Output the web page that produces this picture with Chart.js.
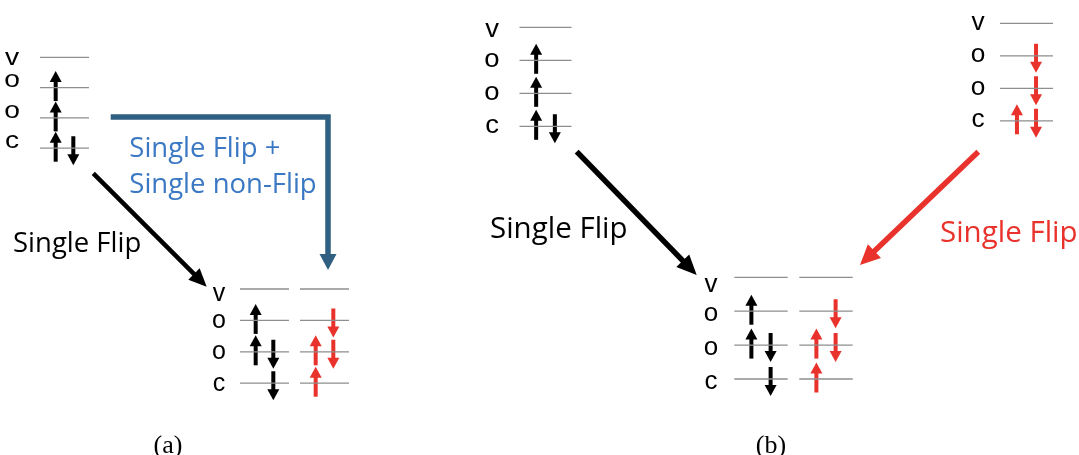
<!DOCTYPE html>
<html>
<head>
<meta charset="utf-8">
<script src="https://cdn.jsdelivr.net/npm/chart.js@4.4.1/dist/chart.umd.min.js"></script>
<style>
  html, body { margin: 0; padding: 0; background: #fff; }
  canvas { display: block; }
</style>
</head>
<body>
<canvas id="diagram" width="1079" height="455"></canvas>
<script>
// levels, top to bottom
const levelNames = ["v", "o", "o", "c"];
// spin occupancy per level: "u" = spin up, "d" = spin down
const startA = ["", "u", "u", "ud"];
const startBLeft = ["", "u", "u", "ud"];
const startBRight = ["", "d", "d", "ud"];
const finalBlack = ["", "u", "ud", "d"];
const finalRed = ["", "d", "ud", "u"];
const flipLabel = "Single Flip";
const mixedLabel = ["Single Flip +", "Single non-Flip"];
const captions = ["(a)", "(b)"];

const BLACK = "#000000";
const RED = "#e8322b";
const BLUE_LINE = "#2f5f81";
const BLUE_TEXT = "#3b78c3";
const GRAY = "#8e8e8e";

// where each little level diagram sits (labelDy = label centre relative to its line)
const panels = [
    { labelX: 12, size: 23.5, sx: 1.2, labelDy: -6.5, vShift: 8, y0: 57.3, gap: 30.3, w: 49,
      cols: [{ x: 40, spins: startA, color: BLACK }] },
    { labelX: 219, size: 25, sx: 1.0, labelDy: 1, vShift: 4, y0: 289, gap: 31.4, w: 49,
      cols: [{ x: 240, spins: finalBlack, color: BLACK }, { x: 300, spins: finalRed, color: RED }] },
    { labelX: 492, size: 25, sx: 1.1, labelDy: 0, vShift: 3, y0: 27.3, gap: 33, w: 52,
      cols: [{ x: 519.5, spins: startBLeft, color: BLACK }] },
    { labelX: 978, size: 25, sx: 1.05, labelDy: 0, vShift: 0, y0: 23.3, gap: 32.5, w: 53,
      cols: [{ x: 1000, spins: startBRight, color: RED }] },
    { labelX: 711, size: 26, sx: 1.0, labelDy: 3.5, vShift: 4, y0: 277.3, gap: 33.9, w: 53.4,
      cols: [{ x: 734.3, spins: finalBlack, color: BLACK }, { x: 799.3, spins: finalRed, color: RED }] }
];

function segment(points, color, width, head) {
    return {
        data: points,
        borderColor: color,
        backgroundColor: color,
        borderWidth: width,
        showLine: true,
        pointRadius: 0,
        tension: 0,
        borderCapStyle: "butt",
        borderJoinStyle: "miter",
        head: head
    };
}

// shaft stops at the neck, the head is filled in by the plugin below
function arrow(from, via, tip, color, width, headLen, headW) {
    const last = via.length ? via[via.length - 1] : from;
    const dx = tip.x - last.x, dy = tip.y - last.y, d = Math.hypot(dx, dy);
    const k = (headLen - 1) / d;
    const neck = { x: tip.x - dx * k, y: tip.y - dy * k };
    return segment([from, ...via, neck], color, width, { tip: tip, len: headLen, w: headW });
}

const datasets = [];
const texts = [];

panels.forEach(p => {
    levelNames.forEach((name, i) => {
        const ly = p.y0 + i * p.gap;
        p.cols.forEach(col => {
            datasets.push(segment([{ x: col.x, y: ly }, { x: col.x + p.w, y: ly }], GRAY, 1.3));
            if (col.spins[i].includes("u")) {
                const x = col.x + 0.32 * p.w;
                datasets.push(arrow({ x: x, y: ly + 13.5 }, [], { x: x, y: ly - 16.5 }, col.color, 4, 11, 12));
            }
            if (col.spins[i].includes("d")) {
                const x = col.x + 0.68 * p.w;
                datasets.push(arrow({ x: x, y: ly - 12 }, [], { x: x, y: ly + 17 }, col.color, 4, 11, 12));
            }
        });
        // lowercase letters: x-height centre sits about 0.26em above the baseline
        texts.push({
            text: name, x: p.labelX, y: ly + p.labelDy + (i === 0 ? p.vShift : 0) + 0.26 * p.size,
            font: p.size + 'px "Liberation Sans", Arial, sans-serif', color: BLACK,
            align: "center", sx: p.sx
        });
    });
});

// transitions
datasets.push(arrow({ x: 93.3, y: 173.3 }, [], { x: 206.7, y: 286.7 }, BLACK, 4.5, 18, 16));
datasets.push(arrow({ x: 110.7, y: 117 }, [{ x: 328, y: 117 }], { x: 328, y: 270 }, BLUE_LINE, 5.5, 16, 17));
datasets.push(arrow({ x: 576.7, y: 151.7 }, [], { x: 696.7, y: 275 }, BLACK, 5.5, 20, 18));
datasets.push(arrow({ x: 978.3, y: 151.7 }, [], { x: 860, y: 265 }, RED, 5.5, 20, 19));

const sans27 = '27.5px "Open Sans", sans-serif';
const sans29 = '29.5px "Open Sans", sans-serif';
texts.push({ text: flipLabel, x: 13, y: 251.7, font: sans27, color: BLACK });
texts.push({ text: mixedLabel[0], x: 129.3, y: 156.7, font: sans27, color: BLUE_TEXT });
texts.push({ text: mixedLabel[1], x: 129.3, y: 192.7, font: sans27, color: BLUE_TEXT });
texts.push({ text: flipLabel, x: 490, y: 238.3, font: sans29, color: BLACK });
texts.push({ text: flipLabel, x: 940, y: 241.7, font: sans29, color: RED });
texts.push({ text: captions[0], x: 168, y: 453, font: '26px "Liberation Serif", serif', color: BLACK, align: "center" });
texts.push({ text: captions[1], x: 771, y: 453, font: '26px "Liberation Serif", serif', color: BLACK, align: "center" });

const arrowHeads = {
    id: "arrowHeads",
    afterDatasetsDraw(chart) {
        const ctx = chart.ctx, xs = chart.scales.x, ys = chart.scales.y;
        chart.data.datasets.forEach((ds, i) => {
            if (!ds.head) return;
            const pts = chart.getDatasetMeta(i).data;
            const neck = pts[pts.length - 1];
            const tx = xs.getPixelForValue(ds.head.tip.x), ty = ys.getPixelForValue(ds.head.tip.y);
            const dx = tx - neck.x, dy = ty - neck.y, d = Math.hypot(dx, dy);
            const ux = dx / d, uy = dy / d;
            const bx = tx - ux * ds.head.len, by = ty - uy * ds.head.len;
            const hw = ds.head.w / 2;
            ctx.save();
            ctx.fillStyle = ds.borderColor;
            ctx.beginPath();
            ctx.moveTo(tx, ty);
            ctx.lineTo(bx - uy * hw, by + ux * hw);
            ctx.lineTo(bx + uy * hw, by - ux * hw);
            ctx.closePath();
            ctx.fill();
            ctx.restore();
        });
    }
};

const textLayer = {
    id: "textLayer",
    afterDraw(chart) {
        const ctx = chart.ctx, xs = chart.scales.x, ys = chart.scales.y;
        texts.forEach(t => {
            ctx.save();
            ctx.font = t.font;
            ctx.fillStyle = t.color;
            ctx.textAlign = t.align || "left";
            ctx.textBaseline = "alphabetic";
            ctx.translate(xs.getPixelForValue(t.x), ys.getPixelForValue(t.y));
            ctx.scale(t.sx || 1, 1);
            ctx.fillText(t.text, 0, 0);
            ctx.restore();
        });
    }
};

new Chart(document.getElementById("diagram"), {
    type: "scatter",
    data: { datasets: datasets },
    options: {
        responsive: false,
        animation: false,
        events: [],
        layout: { padding: 0 },
        plugins: { legend: { display: false }, tooltip: { enabled: false } },
        scales: {
            x: { type: "linear", min: 0, max: 1079, display: false },
            y: { type: "linear", min: 0, max: 455, reverse: true, display: false }
        }
    },
    plugins: [arrowHeads, textLayer]
});
</script>
</body>
</html>
